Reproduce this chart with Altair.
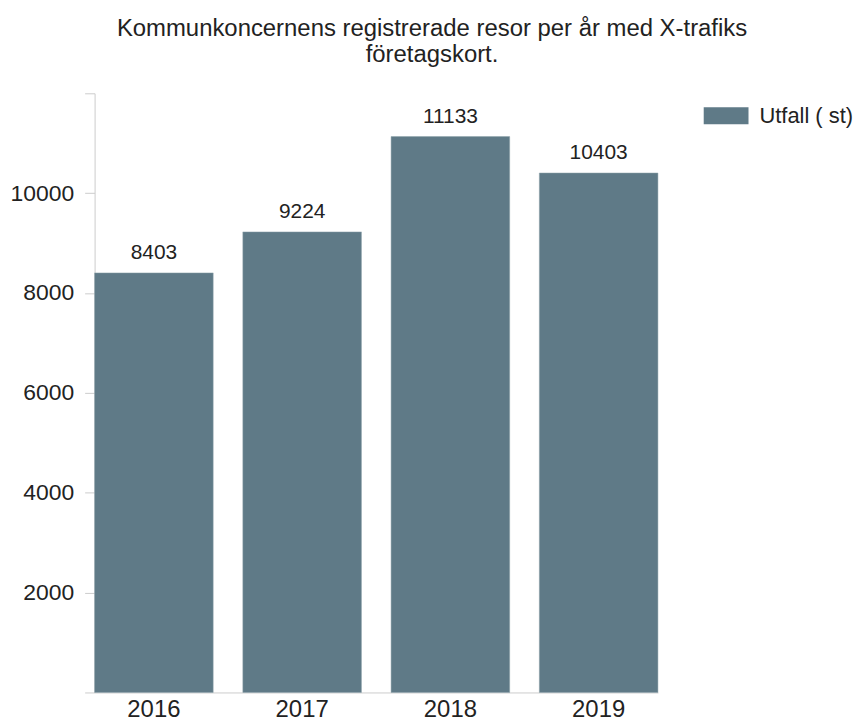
import altair as alt
import pandas as pd

years = ["2016", "2017", "2018", "2019"]
values = [8403, 9224, 11133, 10403]
series_name = "Utfall ( st)"
title_lines = ["Kommunkoncernens registrerade resor per år med X-trafiks", "företagskort."]
y_ticks = [0, 2000, 4000, 6000, 8000, 10000, 12000]

df = pd.DataFrame({"year": years, "value": values, "series": [series_name] * len(years)})

FONT = "Liberation Sans"
BAR = "#5f7a87"
TXT = "#222222"
AX = "#cccccc"

x_enc = alt.X(
    "year:N",
    scale=alt.Scale(paddingInner=0.2, paddingOuter=0),
    axis=alt.Axis(
        title=None, labelAngle=0, ticks=False, domainColor=AX, domainWidth=1,
        labelPadding=5, labelFontSize=24, labelFont=FONT, labelColor=TXT,
    ),
)
y_enc = alt.Y(
    "value:Q",
    scale=alt.Scale(domain=[0, 12000], nice=False),
    axis=alt.Axis(
        title=None, values=y_ticks, format="d", grid=False,
        labelExpr="datum.value == 0 || datum.value == 12000 ? '' : datum.label",
        domainColor=AX, tickColor=AX, tickSize=10, labelPadding=11,
        labelFontSize=23, labelFont=FONT, labelColor=TXT,
    ),
)

base = alt.Chart(df).encode(x=x_enc, y=y_enc)

bars = base.mark_bar(stroke="#8ea1aa", strokeWidth=0.5).encode(
    color=alt.Color(
        "series:N",
        scale=alt.Scale(range=[BAR]),
        legend=alt.Legend(
            title=None, orient="none", legendX=612, legendY=0, padding=0,
            symbolType="M-1,-0.378L1,-0.378L1,0.378L-1,0.378Z", symbolSize=2025,
            symbolStrokeWidth=0, symbolOpacity=1,
            labelFontSize=22, labelFont=FONT, labelColor=TXT, labelOffset=11,
        ),
    )
)

labels = base.mark_text(
    dy=-14, baseline="alphabetic", fontSize=21, font=FONT, color=TXT
).encode(text=alt.Text("value:Q", format="d"))

chart = (
    alt.layer(bars, labels)
    .properties(
        width=566,
        height=602,
        padding={"left": 2, "top": 7, "right": 2, "bottom": 0},
        title=alt.Title(
            title_lines, fontSize=24, fontWeight="normal", font=FONT, color=TXT,
            lineHeight=26, anchor="middle", frame="bounds", offset=26,
        ),
    )
    .configure_view(stroke=None)
)

chart.save("out.html", embed_options={"renderer": "svg", "actions": False})
